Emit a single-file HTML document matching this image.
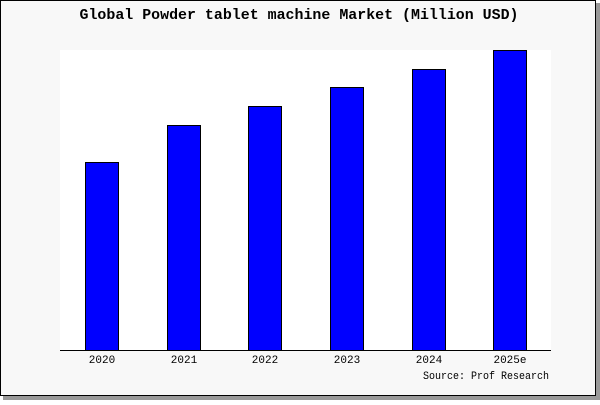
<!DOCTYPE html>
<html><head><style>body{margin:0;width:600px;height:400px;background:#fff;overflow:hidden}</style></head><body>
<svg width="600" height="400" xmlns="http://www.w3.org/2000/svg" font-family="'Liberation Mono','DejaVu Sans Mono',monospace">
<rect x="3" y="3" width="597" height="397" fill="#999"/>
<rect x="0.5" y="0.5" width="595" height="395" fill="#f8f8f8" stroke="#000"/>
<rect x="60" y="50" width="491" height="300" fill="#fff"/>
<text x="299" y="19" text-anchor="middle" font-size="15" font-weight="bold" fill="#000" textLength="439" lengthAdjust="spacingAndGlyphs">Global Powder tablet machine Market (Million USD)</text>
<g fill="#0000ff" stroke="#000" stroke-width="1">
<rect x="85.5" y="162.5" width="33" height="188"/>
<rect x="167.5" y="125.5" width="33" height="225"/>
<rect x="248.5" y="106.5" width="33" height="244"/>
<rect x="330.5" y="87.5" width="33" height="263"/>
<rect x="412.5" y="69.5" width="33" height="281"/>
<rect x="493.5" y="50.5" width="33" height="300"/>
</g>
<line x1="60" y1="350.5" x2="551" y2="350.5" stroke="#000"/>
<g font-size="11" text-anchor="middle" fill="#000">
<text x="102" y="363">2020</text><text x="184" y="363">2021</text><text x="265" y="363">2022</text>
<text x="347" y="363">2023</text><text x="429" y="363">2024</text><text x="510" y="363">2025e</text>
</g>
<text x="549" y="379" font-size="11" text-anchor="end" fill="#000" textLength="126" lengthAdjust="spacingAndGlyphs">Source: Prof Research</text>
</svg>
</body></html>
